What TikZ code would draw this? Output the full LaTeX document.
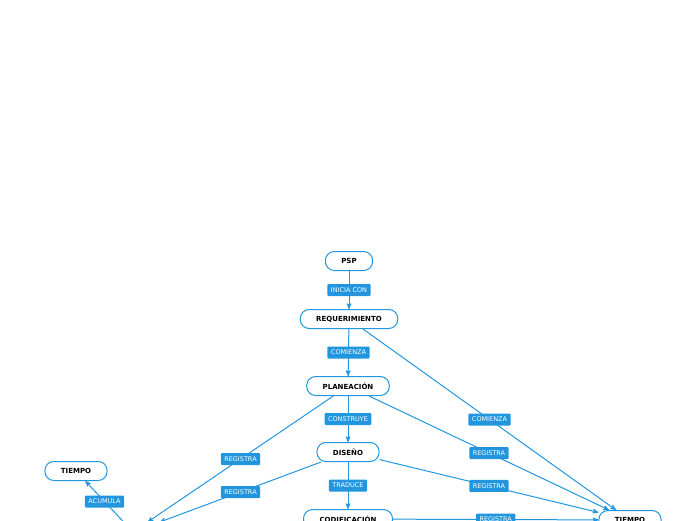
\documentclass[tikz,border=0pt]{standalone}
\usepackage{fontspec}
\setmainfont{DejaVu Sans}
\usetikzlibrary{arrows}
\definecolor{mapblue}{RGB}{33,150,223}

\begin{document}
\begin{tikzpicture}[x=1pt,y=-1pt,->,>=stealth',line width=1pt,
  every edge/.style={draw=mapblue,line width=1pt},
  main node/.style={draw=mapblue,fill=white,text=black,rounded corners=9pt,
    minimum height=19pt,inner xsep=16pt,font=\bfseries\fontsize{7}{8}\selectfont},
  tag/.style={fill=mapblue,text=white,rounded corners=1pt,minimum height=12pt,
    inner xsep=3.5pt,inner ysep=1pt,font=\fontsize{6.5}{7}\selectfont}]

  \useasboundingbox (0,0) rectangle (696,520);

  \node[main node] (psp) at (349,261) {PSP};
  \node[main node] (req) at (349,319) {REQUERIMIENTO};
  \node[main node] (plan) at (348,386) {PLANEACIÓN};
  \node[main node] (dis) at (348,452) {DISEÑO};
  \node[main node] (cod) at (348,519) {CODIFICACIÓN};
  \node[main node] (t1) at (76,471) {TIEMPO};
  \node[main node] (t2) at (630,520) {TIEMPO};
  \node[main node,minimum width=80pt] (reg) at (133,532) {};

  \path[every node/.style={tag}]
    (psp) edge node {INICIA CON} (req)
    (req) edge node {COMIENZA} (plan)
    (plan) edge node {CONSTRUYE} (dis)
    (dis) edge node {TRADUCE} (cod)
    (req) edge node {COMIENZA} (t2)
    (plan) edge node {REGISTRA} (t2)
    (dis) edge node {REGISTRA} (t2)
    (cod) edge node {REGISTRA} (t2)
    (plan) edge node {REGISTRA} (reg)
    (dis) edge node {REGISTRA} (reg)
    (reg) edge node {ACUMULA} (t1);
\end{tikzpicture}
\end{document}
